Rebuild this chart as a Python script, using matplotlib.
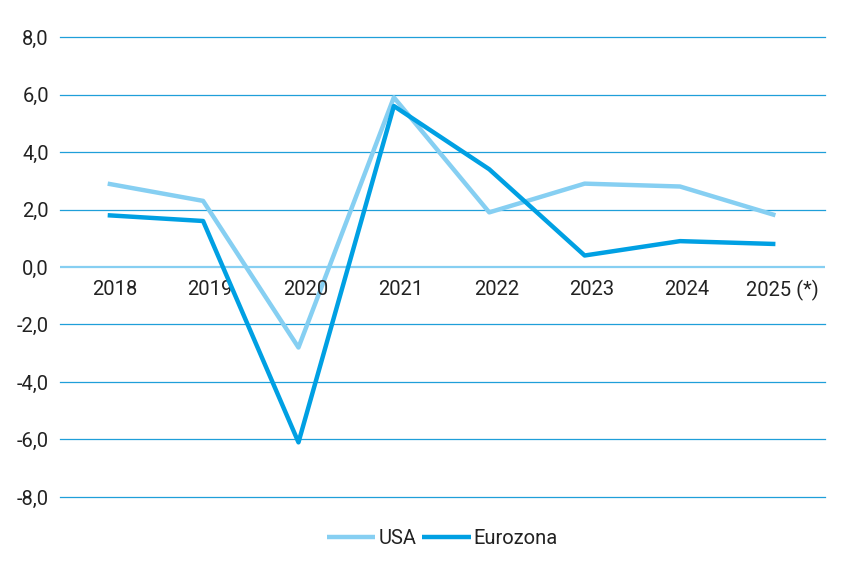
import matplotlib
matplotlib.use("Agg")
import matplotlib.pyplot as plt

years = ["2018", "2019", "2020", "2021", "2022", "2023", "2024", "2025 (*)"]
usa = [2.9, 2.3, -2.8, 5.9, 1.9, 2.9, 2.8, 1.8]
eurozona = [1.8, 1.6, -6.1, 5.6, 3.4, 0.4, 0.9, 0.8]
yticks = [-8, -6, -4, -2, 0, 2, 4, 6, 8]

plt.rcParams['font.family'] = ['Roboto', 'DejaVu Sans']

fig = plt.figure(figsize=(8.5, 5.67), dpi=100)
ax = fig.add_axes([0.0706, 0.1235, 0.9, 0.8112])

x = list(range(len(years)))
for yv in yticks:
    if yv != 0:
        ax.axhline(yv, color='#1f9fd9', lw=0.9, zorder=1, clip_on=False)
ax.axhline(0, color='#86cff2', lw=1.6, zorder=1)

ax.plot(x, usa, color='#86cff2', lw=3.2, label='USA', zorder=3, solid_capstyle='butt')
ax.plot(x, eurozona, color='#00a0e3', lw=3.2, label='Eurozona', zorder=4, solid_capstyle='butt')

ax.set_xlim(-0.5, 7.52)
ax.set_ylim(-8, 8)
ax.set_yticks(yticks)
ax.set_yticklabels([f"{v:.1f}".replace('.', ',') for v in yticks])
ax.tick_params(axis='y', length=0, pad=8, labelsize=14.5, colors='#222222')

ax.set_xticks([])
for xi, lab in zip(x, years):
    ax.annotate(lab, xy=(xi, 0), xytext=(5, -9), textcoords='offset points',
                ha='center', va='top', fontsize=14.5, color='#222222')

for s in ax.spines.values():
    s.set_visible(False)

leg = ax.legend(loc='upper center', bbox_to_anchor=(0.5, -0.03), ncol=2, frameon=False,
                fontsize=14.5, handlelength=2.4, handletextpad=0.15, columnspacing=0.3)
for t in leg.get_texts():
    t.set_color('#222222')

fig.savefig('out.png', dpi=100)
